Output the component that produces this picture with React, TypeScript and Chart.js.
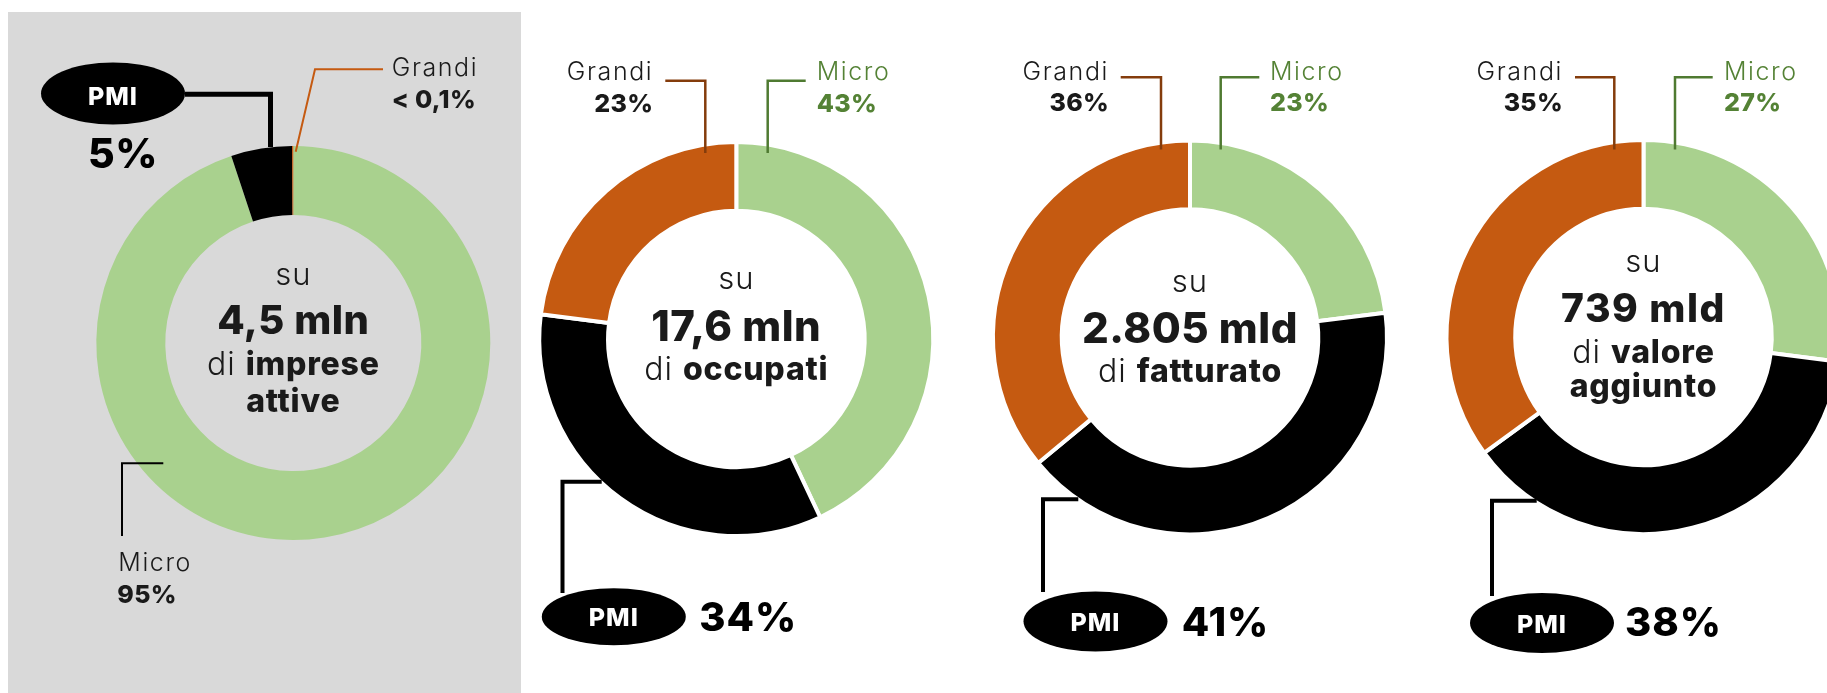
import React, { useEffect, useRef } from "react";
import { Chart, registerables } from "chart.js";

Chart.register(...registerables);

// ---------- data ----------
const categories = ["Micro", "PMI", "Grandi"];
const impreseValues = [95, 5, 0.1];
const occupatiValues = [43, 34, 23];
const fatturatoValues = [23, 41, 36];
const valoreAggiuntoValues = [27, 38, 35];

const impreseLabels = ["95%", "5%", "< 0,1%"];
const occupatiLabels = ["43%", "34%", "23%"];
const fatturatoLabels = ["23%", "41%", "36%"];
const valoreAggiuntoLabels = ["27%", "38%", "35%"];

const totals = ["4,5 mln", "17,6 mln", "2.805 mld", "739 mld"];
const totalsSubjects = [["imprese", "attive"], ["occupati"], ["fatturato"], ["valore", "aggiunto"]];

// ---------- styles ----------
const FONT = 'Inter, "Open Sans", "DejaVu Sans", sans-serif';
const DARK = "#1a1a1a";
const GREEN = "#a9d18e";
const ORANGE = "#c55a11";
const BLACK = "#000000";
const MICRO_TEXT = "#548235";
const GRANDI_LINE = "#843c0c";
const MICRO_LINE = "#4f7a31";

type Run = { t: string; w: number; s: number; c: string; ls?: number };
type Txt = { runs: Run[]; x: number; y: number; align: "left" | "center" | "right" };
type Line = { pts: number[][]; color: string; width: number };
type Ell = { x: number; y: number; rx: number; ry: number };

function drawRuns(ctx: CanvasRenderingContext2D, t: Txt, cx: number, cy: number) {
  const widths = t.runs.map((r) => {
    ctx.font = `${r.w} ${r.s}px ${FONT}`;
    (ctx as any).letterSpacing = `${r.ls ?? 0}px`;
    return ctx.measureText(r.t).width;
  });
  const total = widths.reduce((a, b) => a + b, 0);
  let x = cx + t.x;
  if (t.align === "center") x -= total / 2;
  if (t.align === "right") x -= total;
  t.runs.forEach((r, i) => {
    ctx.font = `${r.w} ${r.s}px ${FONT}`;
    (ctx as any).letterSpacing = `${r.ls ?? 0}px`;
    ctx.fillStyle = r.c;
    ctx.textAlign = "left";
    ctx.textBaseline = "alphabetic";
    ctx.fillText(r.t, x, cy + t.y);
    x += widths[i];
  });
  (ctx as any).letterSpacing = "0px";
}

const nameRun = (t: string, c = DARK): Run => ({ t, w: 300, s: 25, c, ls: 1.6 });
const pctRun = (t: string, c = DARK): Run => ({ t, w: 800, s: 25, c, ls: 0.3 });
const bigPctRun = (t: string): Run => ({ t, w: 800, s: 40, c: BLACK, ls: 1 });
const pmiRun = (): Run => ({ t: "PMI", w: 800, s: 25, c: "#ffffff", ls: 1 });
const suRun = (): Run => ({ t: "su", w: 300, s: 31, c: DARK, ls: 1 });
const numRun = (t: string, s = 42, ls = 0.5): Run => ({ t, w: 800, s, c: DARK, ls });
const diRun = (): Run => ({ t: "di ", w: 300, s: 32, c: DARK, ls: 1 });
const subjRun = (t: string): Run => ({ t, w: 800, s: 32, c: DARK, ls: 0.8 });

type Panel = {
  values: number[];
  colors: string[];
  border: number;
  cutout: string;
  left: number;
  width: number;
  cx: number;
  cy: number;
  size: number;
  lines: Line[];
  ellipse: Ell;
  texts: Txt[];
};

const topLabels = (pcts: string[], gx: number, mx: number, y1: number, y2: number): Txt[] => [
  { runs: [nameRun(categories[2])], x: gx, y: y1, align: "right" },
  { runs: [pctRun(pcts[2])], x: gx, y: y2, align: "right" },
  { runs: [nameRun(categories[0], MICRO_TEXT)], x: mx, y: y1, align: "left" },
  { runs: [pctRun(pcts[0], MICRO_TEXT)], x: mx, y: y2, align: "left" },
];

const panels: Panel[] = [
  {
    values: impreseValues,
    colors: [GREEN, BLACK, ORANGE],
    border: 0,
    cutout: "65%",
    left: 0,
    width: 530,
    cx: 293.3,
    cy: 343,
    size: 394,
    lines: [
      { pts: [[-108.3, -248.8], [-22.8, -248.8], [-22.8, -196]], color: BLACK, width: 5 },
      { pts: [[89.7, -273.7], [21.7, -273.7], [2.4, -191.3]], color: ORANGE, width: 2 },
      { pts: [[-130, 120.3], [-171.3, 120.3], [-171.3, 193]], color: BLACK, width: 2 },
    ],
    ellipse: { x: -180.3, y: -249.5, rx: 72, ry: 31 },
    texts: [
      { runs: [pmiRun()], x: -180.3, y: -238, align: "center" },
      { runs: [{ t: impreseLabels[1], w: 800, s: 41, c: BLACK, ls: 0.5 }], x: -170.3, y: -175.3, align: "center" },
      { runs: [nameRun(categories[2])], x: 98.4, y: -267, align: "left" },
      { runs: [pctRun(impreseLabels[2])], x: 98.4, y: -235.3, align: "left" },
      { runs: [nameRun(categories[0])], x: -175, y: 227.7, align: "left" },
      { runs: [pctRun(impreseLabels[0])], x: -176, y: 260.3, align: "left" },
      { runs: [suRun()], x: 0, y: -58, align: "center" },
      { runs: [numRun(totals[0], 40, 0.5)], x: 0, y: -9, align: "center" },
      { runs: [diRun(), subjRun(totalsSubjects[0][0])], x: 0, y: 32, align: "center" },
      { runs: [subjRun(totalsSubjects[0][1])], x: 0, y: 68.7, align: "center" },
    ],
  },
  {
    values: occupatiValues,
    colors: [GREEN, BLACK, ORANGE],
    border: 4,
    cutout: "65.1%",
    left: 530,
    width: 450,
    cx: 736.3,
    cy: 339,
    size: 398,
    lines: [
      { pts: [[-71, -258.3], [-31, -258.3], [-31, -186]], color: GRANDI_LINE, width: 2.5 },
      { pts: [[69.4, -258.3], [31.4, -258.3], [31.4, -186]], color: MICRO_LINE, width: 2.5 },
      { pts: [[-134.6, 142.7], [-173.8, 142.7], [-173.8, 254]], color: BLACK, width: 4 },
    ],
    ellipse: { x: -122.5, y: 277.7, rx: 72, ry: 28.5 },
    texts: [
      ...topLabels(occupatiLabels, -83, 80.4, -259, -227.3),
      { runs: [pmiRun()], x: -122.5, y: 287, align: "center" },
      { runs: [bigPctRun(occupatiLabels[1])], x: -37, y: 291.7, align: "left" },
      { runs: [suRun()], x: 0, y: -50, align: "center" },
      { runs: [numRun(totals[1])], x: 0, y: 2, align: "center" },
      { runs: [diRun(), subjRun(totalsSubjects[1][0])], x: 0, y: 41, align: "center" },
    ],
  },
  {
    values: fatturatoValues,
    colors: [GREEN, BLACK, ORANGE],
    border: 4,
    cutout: "65.1%",
    left: 980,
    width: 450,
    cx: 1190,
    cy: 337.4,
    size: 398,
    lines: [
      { pts: [[-69.3, -260.1], [-29, -260.1], [-29, -188]], color: GRANDI_LINE, width: 2.5 },
      { pts: [[69.3, -260.1], [30.7, -260.1], [30.7, -188]], color: MICRO_LINE, width: 2.5 },
      { pts: [[-111.7, 161.9], [-147, 161.9], [-147, 254.6]], color: BLACK, width: 4 },
    ],
    ellipse: { x: -94.5, y: 284.1, rx: 72, ry: 30 },
    texts: [
      ...topLabels(fatturatoLabels, -81, 80, -257.9, -226),
      { runs: [pmiRun()], x: -94.5, y: 293.6, align: "center" },
      { runs: [bigPctRun(fatturatoLabels[1])], x: -8.3, y: 298.9, align: "left" },
      { runs: [suRun()], x: 0, y: -45.8, align: "center" },
      { runs: [numRun(totals[2])], x: 0, y: 5.1, align: "center" },
      { runs: [diRun(), subjRun(totalsSubjects[2][0])], x: 0, y: 44.8, align: "center" },
    ],
  },
  {
    values: valoreAggiuntoValues,
    colors: [GREEN, BLACK, ORANGE],
    border: 4,
    cutout: "65.1%",
    left: 1430,
    width: 420,
    cx: 1643.5,
    cy: 337,
    size: 398,
    lines: [
      { pts: [[-68.5, -259.7], [-29.2, -259.7], [-29.2, -187.6]], color: GRANDI_LINE, width: 2.5 },
      { pts: [[69.2, -259.7], [31.5, -259.7], [31.5, -187.6]], color: MICRO_LINE, width: 2.5 },
      { pts: [[-106.8, 163.8], [-151.5, 163.8], [-151.5, 259]], color: BLACK, width: 4 },
    ],
    ellipse: { x: -101.5, y: 286, rx: 72, ry: 30 },
    texts: [
      ...topLabels(valoreAggiuntoLabels, -80.5, 80.5, -257.5, -225.6),
      { runs: [pmiRun()], x: -101.5, y: 295.7, align: "center" },
      { runs: [bigPctRun(valoreAggiuntoLabels[1])], x: -18.5, y: 299, align: "left" },
      { runs: [suRun()], x: 0, y: -65.3, align: "center" },
      { runs: [numRun(totals[3], 39, 1.5)], x: 0, y: -15.3, align: "center" },
      { runs: [diRun(), subjRun(totalsSubjects[3][0])], x: 0, y: 26.3, align: "center" },
      { runs: [subjRun(totalsSubjects[3][1])], x: 0, y: 59.7, align: "center" },
    ],
  },
];

function DonutPanel({ p }: { p: Panel }) {
  const ref = useRef<HTMLCanvasElement | null>(null);
  useEffect(() => {
    if (!ref.current) return;
    const half = p.size / 2;
    const padLeft = p.cx - p.left - half;
    const padTop = p.cy - half;
    const padding = {
      left: padLeft,
      top: padTop,
      right: p.width - padLeft - p.size,
      bottom: 693 - padTop - p.size,
    };
    const annot = {
      id: "annot",
      afterDraw(chart: any) {
        const ctx: CanvasRenderingContext2D = chart.ctx;
        const arc = chart.getDatasetMeta(0).data[0];
        const cx = arc.x;
        const cy = arc.y;
        ctx.save();
        p.lines.forEach((l) => {
          ctx.beginPath();
          l.pts.forEach((pt, i) => {
            if (i === 0) ctx.moveTo(cx + pt[0], cy + pt[1]);
            else ctx.lineTo(cx + pt[0], cy + pt[1]);
          });
          ctx.strokeStyle = l.color;
          ctx.lineWidth = l.width;
          ctx.lineJoin = "miter";
          ctx.lineCap = "butt";
          ctx.stroke();
        });
        ctx.beginPath();
        ctx.ellipse(cx + p.ellipse.x, cy + p.ellipse.y, p.ellipse.rx, p.ellipse.ry, 0, 0, Math.PI * 2);
        ctx.fillStyle = BLACK;
        ctx.fill();
        p.texts.forEach((t) => drawRuns(ctx, t, cx, cy));
        ctx.restore();
      },
    };
    const chart = new Chart(ref.current, {
      type: "doughnut",
      data: {
        labels: categories,
        datasets: [
          {
            data: p.values,
            backgroundColor: p.colors,
            borderColor: "#ffffff",
            borderWidth: p.border,
            hoverOffset: 0,
          },
        ],
      },
      options: {
        responsive: false,
        animation: false,
        events: [],
        cutout: p.cutout,
        layout: { padding },
        plugins: { legend: { display: false }, tooltip: { enabled: false } },
      },
      plugins: [annot],
    } as any);
    return () => chart.destroy();
  }, [p]);
  return (
    <canvas
      ref={ref}
      width={p.width}
      height={693}
      style={{ position: "absolute", left: p.left, top: 0, width: p.width, height: 693 }}
    />
  );
}

export default function App() {
  return (
    <div
      style={{
        position: "fixed",
        left: 0,
        top: 0,
        width: 1827,
        height: 693,
        overflow: "hidden",
        background: "#ffffff",
      }}
    >
      <div style={{ position: "absolute", left: 8, top: 12, width: 513, height: 681, background: "#d9d9d9" }} />
      {panels.map((p, i) => (
        <DonutPanel key={i} p={p} />
      ))}
    </div>
  );
}
